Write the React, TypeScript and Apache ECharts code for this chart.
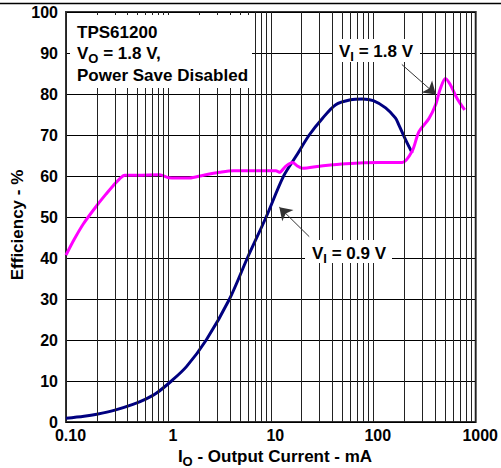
import React, { useEffect, useRef } from "react";
import * as echarts from "echarts";

// V_I = 1.8 V (magenta)
const currentVI18 = [0.1, 0.12, 0.1475, 0.2, 0.25, 0.29, 0.33, 0.375, 0.5, 0.82, 1.0, 1.6, 2.2, 3.15, 4.3, 8, 11.2, 12.1, 14, 16.3, 18, 20.4, 30, 54, 114, 192, 240, 279, 349, 405, 453, 507, 567, 658, 781];
const effVI18 = [40.7, 44.5, 48.3, 52.8, 55.8, 57.7, 59.2, 60.2, 60.2, 60.3, 59.6, 59.5, 60.2, 60.9, 61.3, 61.3, 61.3, 60.9, 62.4, 63.3, 62.5, 61.9, 62.4, 63.0, 63.3, 63.3, 66.1, 70.8, 74.0, 77.3, 81.4, 83.8, 82.2, 78.9, 76.1];

// V_I = 0.9 V (navy)
const currentVI09 = [0.1, 0.15, 0.2, 0.3, 0.45, 0.6, 0.76, 1.07, 1.5, 2.34, 3.95, 5.9, 9.0, 13.2, 17.6, 23.7, 32, 43, 60, 78, 100, 132, 165, 178, 207, 240];
const effVI09 = [0.9, 1.4, 1.9, 2.9, 4.3, 5.6, 7.0, 10, 13.5, 20, 30, 40, 50, 59.8, 64.8, 70, 74.1, 77.4, 78.6, 78.8, 78.4, 76.6, 74.1, 72.4, 68.8, 65.6];

// minor log gridlines
const decades = [0.1, 1, 10, 100];
const multipliers = [2, 3, 4, 5, 6, 7, 8, 9];

// annotation arrows (data coords): [fromX, fromY, toX, toY]
const arrow18 = [190, 87.2, 408, 79.9];
const arrow09 = [23.7, 45.2, 12.1, 52.4];

const F = "'Liberation Sans', Arial, sans-serif";

export default function App() {
  const ref = useRef<HTMLDivElement>(null);
  useEffect(() => {
    if (!ref.current) return;
    const chart = echarts.init(ref.current, null, { renderer: "svg" });
    const minor: number[] = [];
    decades.forEach((d) => multipliers.forEach((m) => minor.push(+(d * m).toPrecision(3))));
    const txt = { fontFamily: F, fontWeight: "bold" as const, color: "#000" };
    const rich = {
      m: { fontFamily: F, fontWeight: "bold", fontSize: 17, fill: "#000", color: "#000" },
      s: { fontFamily: F, fontWeight: "bold", fontSize: 13, fill: "#000", color: "#000", padding: [11, 0, 0, 0] },
    };
    chart.setOption({
      animation: false,
      backgroundColor: "#fff",
      grid: { left: 66, right: 24, top: 12, bottom: 46, show: true, borderColor: "#333", borderWidth: 2, backgroundColor: "transparent" },
      xAxis: {
        type: "log",
        logBase: 10,
        min: 0.1,
        max: 1000,
        axisLine: { show: false },
        axisTick: { show: false },
        splitLine: { show: true, lineStyle: { color: "#222", width: 1 } },
        axisLabel: {
          ...txt,
          fontSize: 16,
          margin: 5,
          padding: [0, 0, 0, 9],
          formatter: (v: number) => (v < 0.5 ? "0.10" : String(Math.round(v))),
        },
      },
      yAxis: {
        type: "value",
        min: 0,
        max: 100,
        interval: 10,
        axisLine: { show: false },
        axisTick: { show: false },
        splitLine: { show: true, lineStyle: { color: "#000", width: 1 } },
        axisLabel: { ...txt, fontSize: 16, margin: 8 },
      },
      series: [
        {
          type: "line",
          data: [],
          z: 1,
          silent: true,
          markLine: {
            silent: true,
            symbol: "none",
            label: { show: false },
            lineStyle: { color: "#222", width: 1, type: "solid" },
            emphasis: { disabled: true },
            data: minor.map((v) => ({ xAxis: v })),
          },
        },
        {
          type: "line",
          name: "VI=0.9V",
          data: currentVI09.map((x, i) => [x, effVI09[i]]),
          showSymbol: false,
          smooth: 0.3,
          lineStyle: { color: "#000080", width: 3 },
          itemStyle: { color: "#000080" },
          z: 3,
        },
        {
          type: "line",
          name: "VI=1.8V",
          data: currentVI18.map((x, i) => [x, effVI18[i]]),
          showSymbol: false,
          smooth: 0.3,
          lineStyle: { color: "#FF00FF", width: 3 },
          itemStyle: { color: "#FF00FF" },
          z: 4,
        },
        {
          type: "line",
          data: [],
          z: 5,
          silent: true,
          markLine: {
            silent: true,
            symbol: ["none", "arrow"],
            symbolSize: 12,
            label: { show: false },
            lineStyle: { color: "#333", width: 1, type: "solid" },
            itemStyle: { color: "#333" },
            emphasis: { disabled: true },
            data: [
              [{ coord: [arrow18[0], arrow18[1]] }, { coord: [arrow18[2], arrow18[3]] }],
              [{ coord: [arrow09[0], arrow09[1]] }, { coord: [arrow09[2], arrow09[3]] }],
            ],
          },
        },
      ],
      graphic: [
        { type: "line", z: 100, shape: { x1: 0, y1: 3.5, x2: 501, y2: 3.5 }, style: { stroke: "#000", lineWidth: 1.5 } },
        { type: "rect", z: 100, shape: { x: 70, y: 15, width: 182, height: 73 }, style: { fill: "#fff" } },
        { type: "rect", z: 100, shape: { x: 333, y: 39, width: 87, height: 23 }, style: { fill: "#fff" } },
        { type: "rect", z: 100, shape: { x: 305, y: 240, width: 87, height: 23 }, style: { fill: "#fff" } },
        { type: "text", z: 101, x: 77, y: 32, style: { text: "TPS61200", font: `bold 17px ${F}`, fill: "#000", verticalAlign: "middle" } },
        { type: "text", z: 101, x: 77, y: 53, style: { text: "{m|V}{s|O}{m| = 1.8 V,}", rich, verticalAlign: "middle" } },
        { type: "text", z: 101, x: 77, y: 75, style: { text: "Power Save Disabled", font: `bold 17px ${F}`, fill: "#000", verticalAlign: "middle" } },
        { type: "text", z: 101, x: 376, y: 51, style: { text: "{m|V}{s|I}{m| = 1.8 V}", rich, align: "center", verticalAlign: "middle" } },
        { type: "text", z: 101, x: 349, y: 253, style: { text: "{m|V}{s|I}{m| = 0.9 V}", rich, align: "center", verticalAlign: "middle" } },
        { type: "text", z: 101, x: 275, y: 456, style: { text: "{m|I}{s|O}{m| - Output Current - mA}", rich, align: "center", verticalAlign: "middle" } },
        { type: "text", z: 101, x: 17, y: 225, rotation: Math.PI / 2, style: { text: "Efficiency - %", font: `bold 17px ${F}`, fill: "#000", align: "center", verticalAlign: "middle" } },
      ],
    });
    return () => chart.dispose();
  }, []);
  return <div ref={ref} style={{ position: "fixed", left: 0, top: 0, width: 501, height: 468 }} />;
}
